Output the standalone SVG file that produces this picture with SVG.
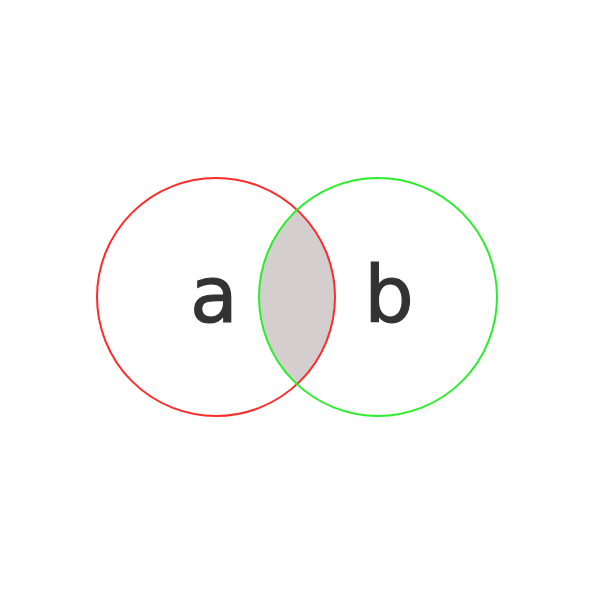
<svg xmlns="http://www.w3.org/2000/svg" width="600" height="600" viewBox="0 0 600 600">
<style>
.c{fill:none;stroke-width:2}
.t{font-family:"DejaVu Sans","Liberation Sans",sans-serif;font-size:78px;fill:#333333;stroke:#333333;stroke-width:1.2;text-anchor:middle}
</style>
<rect width="600" height="600" fill="#ffffff"/>
<path id="lens" d="M297,209.8 A119,119 0 0,1 297,384.2 A119,119 0 0,1 297,209.8 Z" fill="#d5cece"/>
<g id="a">
<circle class="c" cx="216" cy="297" r="119" stroke="#ff2a2a"/>
<text class="t" x="214" y="322">a</text>
</g>
<g id="b">
<circle class="c" cx="378" cy="297" r="119" stroke="#2aee2a"/>
<text class="t" x="389" y="322">b</text>
</g>
</svg>
